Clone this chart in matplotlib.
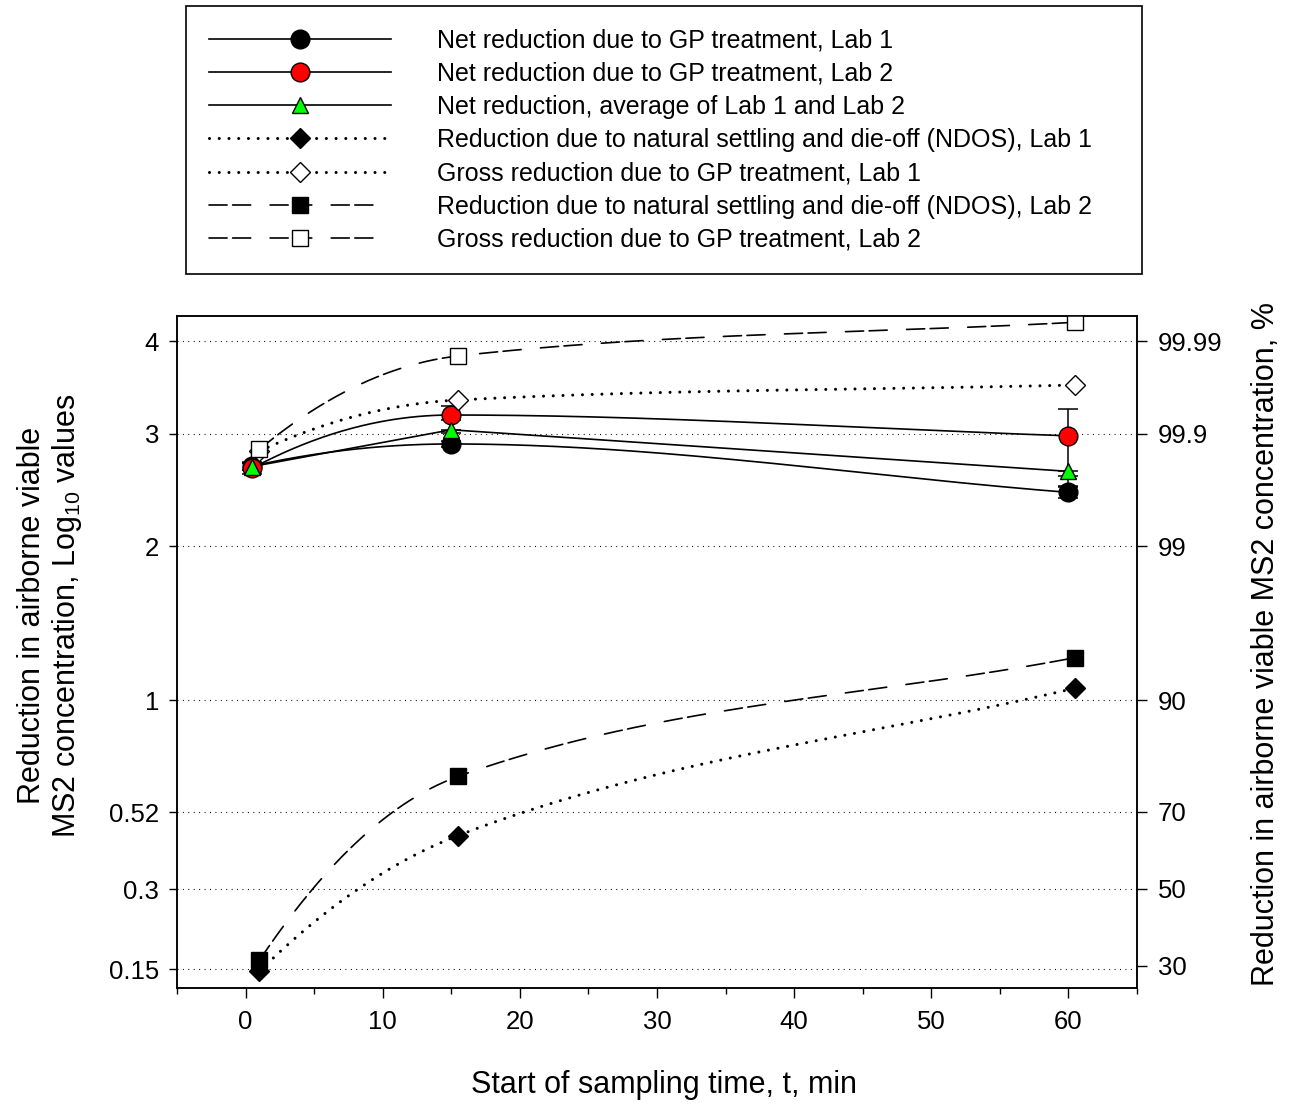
import numpy as np
import matplotlib.pyplot as plt
from matplotlib.lines import Line2D
from matplotlib.ticker import FixedLocator, NullLocator, MultipleLocator
from statistics import NormalDist

plt.rcParams['font.family'] = ['Liberation Sans', 'DejaVu Sans']
plt.rcParams['mathtext.fontset'] = 'custom'
plt.rcParams['mathtext.rm'] = 'Liberation Sans'
plt.rcParams['lines.scale_dashes'] = False

# data (log10 reduction values)
time_net = [0.5, 15, 60]
net_lab1 = [2.69, 2.90, 2.45]
net_lab1_err = [[0.04, 0.03, 0.05], [0.04, 0.03, 0.05]]      # [lower, upper]
net_lab2 = [2.67, 3.19, 2.98]
net_lab2_err = [[0.05, 0.05, 0.38], [0.05, 0.09, 0.275]]
net_avg = [2.685, 3.04, 2.64]
net_avg_err = [[0.03, 0.03, 0.13], [0.03, 0.0, 0.0]]

time_lab = [1, 15.5, 60.5]
ndos_lab1 = [0.147, 0.445, 1.063]
gross_lab1 = [2.83, 3.347, 3.507]
ndos_lab2 = [0.163, 0.652, 1.235]
gross_lab2 = [2.847, 3.83, 4.225]

left_ticks = [0.15, 0.3, 0.52, 1, 2, 3, 4]
left_labels = ["0.15", "0.3", "0.52", "1", "2", "3", "4"]
right_pct = [30, 50, 70, 90, 99, 99.9, 99.99]
right_labels = ["30", "50", "70", "90", "99", "99.9", "99.99"]

_nd = NormalDist()


# probability (probit) scale of percent reduction, expressed in log10 units
def log_to_probit(L):
    L = np.asarray(L, dtype=float)
    p = np.clip(1.0 - 10.0 ** (-L), 1e-10, 1 - 1e-14)
    return np.vectorize(_nd.inv_cdf, otypes=[float])(p)


def probit_to_log(z):
    z = np.clip(np.asarray(z, dtype=float), -6, 7.5)
    q = np.vectorize(lambda v: _nd.cdf(-v), otypes=[float])(z)
    return -np.log10(q)


def smooth(x, y, n=120):
    # smooth hermite curve through the points, built in the displayed space
    x = np.asarray(x, float)
    z = log_to_probit(y)
    h = np.diff(x)
    s = np.diff(z) / h
    m = np.zeros_like(z)
    for k in range(1, len(z) - 1):
        if s[k - 1] * s[k] > 0:
            w1 = 2 * h[k] + h[k - 1]
            w2 = h[k] + 2 * h[k - 1]
            m[k] = (w1 + w2) / (w1 / s[k - 1] + w2 / s[k])
    m[0] = 2 * s[0] - m[1]
    if m[0] * s[0] < 0:
        m[0] = 0
    m[-1] = s[-1]
    xs, zs = [], []
    for k in range(len(h)):
        t = np.linspace(0, 1, n)
        h00 = 2 * t**3 - 3 * t**2 + 1
        h10 = t**3 - 2 * t**2 + t
        h01 = -2 * t**3 + 3 * t**2
        h11 = t**3 - t**2
        xs.append(x[k] + t * h[k])
        zs.append(h00 * z[k] + h10 * h[k] * m[k] + h01 * z[k + 1] + h11 * h[k] * m[k + 1])
    return np.concatenate(xs), probit_to_log(np.concatenate(zs))


fig = plt.figure(figsize=(12.92, 11.06), dpi=100)
ax = fig.add_axes([0.137, 0.1067, 0.743, 0.6076])
ax.set_yscale('function', functions=(log_to_probit, probit_to_log))

dotted = (0, (0.01, 7.0))
dashed = (0, (13.0, 4.0, 13.0, 14.0))

series = [
    dict(x=time_net, y=net_lab1, ls='-', lw=1.2, marker='o', ms=13.5, mfc='black', smooth=True,
         label="Net reduction due to GP treatment, Lab 1"),
    dict(x=time_net, y=net_lab2, ls='-', lw=1.2, marker='o', ms=13.5, mfc='#ff0000', smooth=True,
         label="Net reduction due to GP treatment, Lab 2"),
    dict(x=time_net, y=net_avg, ls='-', lw=1.2, marker='^', ms=11, mfc='#00ff00', smooth=False,
         label="Net reduction, average of Lab 1 and Lab 2"),
    dict(x=time_lab, y=ndos_lab1, ls=dotted, lw=2.2, marker='D', ms=10, mfc='black', smooth=True,
         label="Reduction due to natural settling and die-off (NDOS), Lab 1"),
    dict(x=time_lab, y=gross_lab1, ls=dotted, lw=2.2, marker='D', ms=10, mfc='white', smooth=True,
         label="Gross reduction due to GP treatment, Lab 1"),
    dict(x=time_lab, y=ndos_lab2, ls=dashed, lw=1.2, marker='s', ms=11, mfc='black', smooth=True,
         label="Reduction due to natural settling and die-off (NDOS), Lab 2"),
    dict(x=time_lab, y=gross_lab2, ls=dashed, lw=1.2, marker='s', ms=11, mfc='white', smooth=True,
         label="Gross reduction due to GP treatment, Lab 2"),
]

# lines
for sr in series:
    if sr['smooth']:
        xs, ys = smooth(sr['x'], sr['y'])
    else:
        xs, ys = sr['x'], sr['y']
    ax.plot(xs, ys, color='black', linestyle=sr['ls'], linewidth=sr['lw'],
            dash_capstyle='round', zorder=2)

# error bars
for y, err in [(net_lab1, net_lab1_err), (net_avg, net_avg_err), (net_lab2, net_lab2_err)]:
    ax.errorbar(time_net, y, yerr=err, fmt='none', ecolor='black', elinewidth=1.1,
                capsize=7, capthick=1.1, zorder=3)

# markers
handles = []
for sr in series:
    ax.plot(sr['x'], sr['y'], linestyle='none', marker=sr['marker'], markersize=sr['ms'],
            markerfacecolor=sr['mfc'], markeredgecolor='black', markeredgewidth=1.0, zorder=4)
    handles.append(Line2D([], [], color='black', linestyle=sr['ls'], linewidth=sr['lw'],
                          dash_capstyle='round', marker=sr['marker'], markersize=sr['ms'],
                          markerfacecolor=sr['mfc'], markeredgecolor='black',
                          markeredgewidth=1.0, label=sr['label']))

ylim = (-np.log10(0.75), -np.log10(5e-5))
ax.set_xlim(-5, 65)
ax.set_ylim(*ylim)
ax.xaxis.set_major_locator(MultipleLocator(10))
ax.xaxis.set_minor_locator(MultipleLocator(5))
ax.yaxis.set_major_locator(FixedLocator(left_ticks))
ax.yaxis.set_minor_locator(NullLocator())
ax.set_yticklabels(left_labels)
ax.grid(axis='y', color='black', linestyle=(0, (0.7, 3.2)), linewidth=0.8)
ax.set_axisbelow(True)

ax.tick_params(axis='x', which='major', direction='out', length=7, width=1.0, pad=9, labelsize=18.5)
ax.tick_params(axis='x', which='minor', direction='out', length=4.5, width=1.0)
ax.tick_params(axis='y', which='both', direction='out', length=6, width=1.0, pad=7,
               labelsize=18.5, right=False)
for sp in ax.spines.values():
    sp.set_linewidth(1.1)

ax2 = ax.twinx()
ax2.set_yscale('function', functions=(log_to_probit, probit_to_log))
ax2.set_ylim(*ylim)
ax2.yaxis.set_major_locator(FixedLocator([-np.log10(1 - p / 100) for p in right_pct]))
ax2.yaxis.set_minor_locator(NullLocator())
ax2.set_yticklabels(right_labels)
ax2.tick_params(axis='y', direction='out', length=7, width=1.0, pad=8, labelsize=18.5)
for sp in ax2.spines.values():
    sp.set_linewidth(1.1)

ax.set_xlabel("Start of sampling time, t, min", fontsize=22)
ax.xaxis.set_label_coords(0.507, -0.122)
ax.set_ylabel("Reduction in airborne viable\nMS2 concentration, Log$_{\\mathregular{10}}$ values",
              fontsize=22, linespacing=1.12)
ax.yaxis.set_label_coords(-0.097, 0.554)
ax2.set_ylabel("Reduction in airborne viable MS2 concentration, %", fontsize=22)
ax2.yaxis.set_label_coords(1.119, 0.512)

fig.legend(handles=handles, loc='upper left', mode='expand',
           bbox_to_anchor=(0.144, 0.7514, 0.740, 0.2432), borderaxespad=0,
           fontsize=18, handlelength=7.3, handletextpad=1.85, labelspacing=0.37,
           borderpad=0.9, frameon=True, fancybox=False, edgecolor='black',
           framealpha=1, numpoints=1)
fig.legends[0].get_frame().set_linewidth(1.2)

fig.savefig('out.png', dpi=100)
